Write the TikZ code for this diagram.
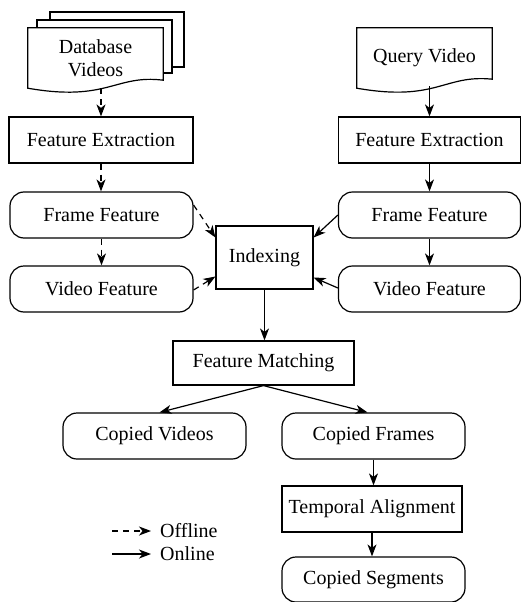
\documentclass[tikz,border=0pt]{standalone}
\usepackage{fontspec}
\setmainfont{Liberation Serif}
\usetikzlibrary{arrows.meta,calc}
\begin{document}
\begin{tikzpicture}[x=1pt,y=-1pt,
  every node/.style={font=\fontsize{20}{23.5}\selectfont},
  base/.style={draw,line width=1.2pt,inner sep=0pt},
  boxnode/.style={base,rectangle},
  roundnode/.style={base,rectangle,rounded corners=14pt},
  docnode/.style={inner sep=0pt,align=center},
  ln/.style={line width=1.2pt},
  arr/.style={ln,-{Stealth[length=12pt,width=9pt,inset=3.5pt]}},
  off/.style={arr,dash pattern=on 6pt off 5pt}]
\useasboundingbox (0,0) rectangle (521,602);
% documents
\draw[ln,fill=white] (50,20) -- (50,12) -- (184,12) -- (184,67) -- (172,67);
\draw[ln,fill=white] (37,28) -- (37,20) -- (172,20) -- (172,73) -- (163,73);
\node[docnode,minimum width=135pt,minimum height=60pt] (db) at (95.5,58) {Database\\[-1pt]Videos};
\draw[ln] (db.north west) -- (db.north east) -- ($(db.south east)+(0,-8)$)
  .. controls ($(db.south east)+(-48,-14)$) and ($(db.south west)+(80,14)$) .. (db.south west) -- cycle;
\node[docnode,minimum width=135pt,minimum height=60pt] (qv) at (424.5,58) {Query Video};
\draw[ln] (qv.north west) -- (qv.north east) -- ($(qv.south east)+(0,-9)$)
  .. controls ($(qv.south east)+(-48,-14)$) and ($(qv.south west)+(80,14)$) .. (qv.south west) -- cycle;
% boxes
\node[boxnode,minimum width=184pt,minimum height=46pt] (fe1) at (101,140) {Feature Extraction};
\node[boxnode,minimum width=182pt,minimum height=46pt] (fe2) at (429.5,140) {Feature Extraction};
\node[roundnode,minimum width=183pt,minimum height=46pt] (ff1) at (101.5,215) {Frame Feature};
\node[roundnode,minimum width=183pt,minimum height=46pt] (vf1) at (101.5,289) {Video Feature};
\node[roundnode,minimum width=182pt,minimum height=46pt] (ff2) at (429.5,215) {Frame Feature};
\node[roundnode,minimum width=182pt,minimum height=46pt] (vf2) at (429.5,289) {Video Feature};
\node[boxnode,minimum width=97pt,minimum height=63pt] (idx) at (264.5,257.5) {Indexing};
\node[boxnode,minimum width=181pt,minimum height=44pt] (fm) at (263.5,363) {Feature Matching};
\node[roundnode,minimum width=183pt,minimum height=46pt] (cv) at (154.5,436) {Copied Videos};
\node[roundnode,minimum width=183pt,minimum height=46pt] (cf) at (373.5,436) {Copied Frames};
\node[boxnode,minimum width=180pt,minimum height=46pt] (ta) at (372,509) {Temporal Alignment};
\node[roundnode,minimum width=183pt,minimum height=45pt] (cs) at (373.5,579.5) {Copied Segments};
% connectors
\draw[off] (fe1.north |- db.south) -- (fe1.north);
\draw[off] (fe1.south) -- (fe1.south |- ff1.north);
\draw[off] (ff1.south) -- (vf1.north);
\draw[arr] ($(fe2.north |- qv.south)+(0,-2)$) -- (fe2.north);
\draw[arr] (fe2.south) -- (fe2.south |- ff2.north);
\draw[arr] (ff2.south) -- (vf2.north);
\draw[off] ($(ff1.east)+(0,-10)$) -- ($(idx.west)+(0,-20)$);
\draw[off] ($(vf1.east)+(0,1)$) -- ($(idx.west)+(0,19)$);
\draw[arr] (ff2.west) -- ($(idx.east)+(0,-20)$);
\draw[arr] ($(vf2.west)+(0,-1)$) -- ($(idx.east)+(0,20)$);
\draw[arr] (idx.south) -- (idx.south |- fm.north);
\draw[arr] (fm.south) -- ($(cv.north)+(5,0)$);
\draw[arr] (fm.south) -- ($(cf.north)+(-6,0)$);
\draw[arr] (cf.south) -- (cf.south |- ta.north);
\draw[arr] (ta.south) -- (ta.south |- cs.north);
% legend
\coordinate (la) at (112,531);
\coordinate (lb) at (151,531);
\coordinate (lc) at (112,554);
\coordinate (ld) at (151,554);
\draw[off] (la) -- (lb);
\draw[arr] (lc) -- (ld);
\node[anchor=west,inner sep=0pt] (loff) at (160,531) {Offline};
\node[anchor=west,inner sep=0pt] (lon) at (160,554) {Online};
\end{tikzpicture}
\end{document}
